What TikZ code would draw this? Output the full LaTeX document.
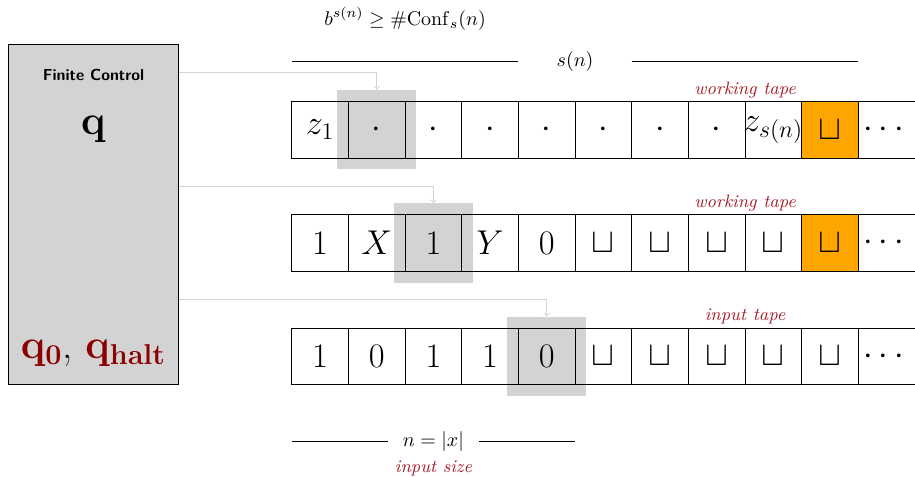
\documentclass[tikz,border=0pt]{standalone}
\usepackage{amsmath, amssymb}
\usepackage{tikz}
\definecolor{darkred}{RGB}{139,0,0}
\definecolor{labelred}{RGB}{165,30,40}
\definecolor{headgray}{RGB}{211,211,211}
\definecolor{tapeorange}{RGB}{255,165,0}

\begin{document}
\begin{tikzpicture}[every node/.style={inner sep=0pt},
    cell/.style={draw, minimum size=1cm, font=\LARGE},
    blankcell/.style={cell, fill=tapeorange},
    head/.style={fill=headgray, minimum size=1.4cm},
    headarrow/.style={draw=headgray, ->},
    tapelabel/.style={font=\small\itshape, text=labelred}]
    \useasboundingbox (-5.15,-1.62) rectangle (11,6.79);
    % finite control
    \node[draw, fill=headgray, minimum width=3cm, minimum height=6cm] (fc) at (-3.5,3) {};
    \node[font=\footnotesize\sffamily\bfseries] (fctitle) at (-3.5,5.47) {Finite Control};
    \node[font=\huge] (q) at (-3.5,4.5) {$\mathbf{q}$};
    \node[font=\huge] (qs) at (-3.5,0.55) {\textcolor{darkred}{$\mathbf{q_0}$}, \textcolor{darkred}{$\mathbf{q_{halt}}$}};
    % head positions
    \node[head] (h1) at (1.5,4.5) {};
    \node[head] (h2) at (2.5,2.5) {};
    \node[head] (h3) at (4.5,0.5) {};
    % working tape 1
    \foreach \c [count=\i from 0] in {z_1,\cdot,\cdot,\cdot,\cdot,\cdot,\cdot,\cdot}
      \node[cell] (a\i) at (\i+0.5,4.5) {$\c$};
    \node[cell] (a8) at (8.5,4.5) {$\!z_{s(n)}\!$};
    \node[blankcell] (a9) at (9.5,4.5) {$\sqcup$};
    \node[cell] (a10) at (10.5,4.5) {$\cdots$};
    % working tape 2
    \foreach \c [count=\i from 0] in {1,X,1,Y,0,\sqcup,\sqcup,\sqcup,\sqcup}
      \node[cell] (b\i) at (\i+0.5,2.5) {$\c$};
    \node[blankcell] (b9) at (9.5,2.5) {$\sqcup$};
    \node[cell] (b10) at (10.5,2.5) {$\cdots$};
    % input tape
    \foreach \c [count=\i from 0] in {1,0,1,1,0,\sqcup,\sqcup,\sqcup,\sqcup,\sqcup,\cdots}
      \node[cell] (c\i) at (\i+0.5,0.5) {$\c$};
    \node[tapelabel] (l1) at (8,5.2) {working tape};
    \node[tapelabel] (l2) at (8,3.2) {working tape};
    \node[tapelabel] (l3) at (8,1.2) {input tape};
    % heads
    \draw[headarrow] ([yshift=-0.5cm]fc.north east) -| (h1.north);
    \draw[headarrow] ([yshift=-2.5cm]fc.north east) -| (h2.north);
    \draw[headarrow] ([yshift=-4.5cm]fc.north east) -| (h3.north);
    % space and input size
    \node (conf) at (2,6.46) {$b^{s(n)} \geq \#\mathrm{Conf}_{s}(n)$};
    \node (sn) at (5,5.7) {$s(n)$};
    \draw (0,5.7) -- (4,5.7);
    \draw (6,5.7) -- (10,5.7);
    \node (nx) at (2.5,-1) {$n=|x|$};
    \draw (0,-1) -- (1.7,-1);
    \draw (3.3,-1) -- (5,-1);
    \node[tapelabel] (isize) at (2.5,-1.48) {input size};
  \end{tikzpicture}
\end{document}
